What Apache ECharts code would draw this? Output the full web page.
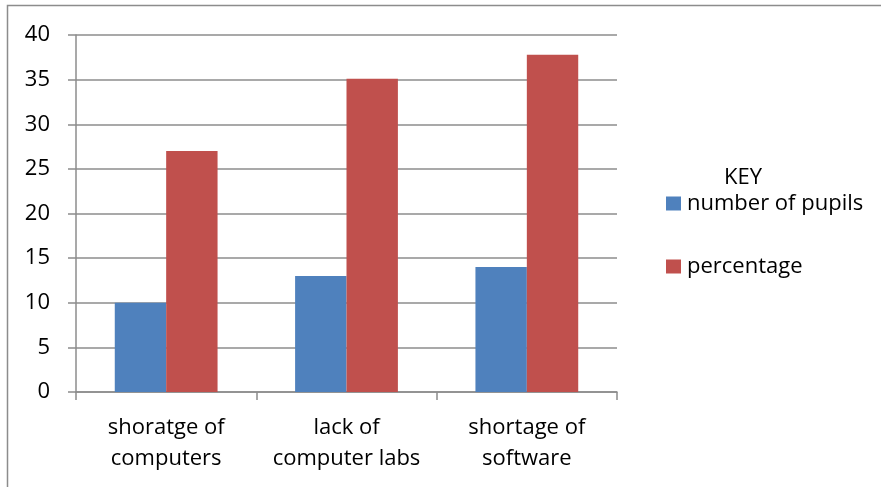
<!DOCTYPE html>
<html>
<head>
<meta charset="utf-8">
<script src="https://cdn.jsdelivr.net/npm/echarts@6/dist/echarts.min.js"></script>
<style>html,body{margin:0;padding:0;background:#fff}#c{width:881px;height:487px}</style>
</head>
<body>
<div id="c"></div>
<script>
var categories = ['shoratge of\ncomputers', 'lack of\ncomputer labs', 'shortage of\nsoftware'];
var pupils = [10, 13, 14];
var percentage = [27, 35.1, 37.8];
var seriesNames = ['number of pupils', 'percentage'];
var yTicks = {min: 0, max: 40, interval: 5};

var FONT = 'Open Sans';
var FS = 22;
var chart = echarts.init(document.getElementById('c'), null, {renderer: 'canvas'});
chart.setOption({
  animation: false,
  backgroundColor: '#fff',
  textStyle: {fontFamily: FONT},
  title: {
    text: 'KEY', left: 719, top: 162,
    textStyle: {fontFamily: FONT, fontSize: FS, fontWeight: 'normal', color: '#000'}
  },
  graphic: [{
    type: 'polyline',
    shape: {points: [[7.5, 487], [7.5, 5.5], [881, 5.5]]},
    style: {stroke: '#8c8c8c', lineWidth: 1.5, fill: null}
  }],
  legend: {
    orient: 'vertical', left: 661, top: 187,
    itemWidth: 15, itemHeight: 14, itemGap: 40,
    icon: 'rect',
    textStyle: {fontFamily: FONT, fontSize: FS, color: '#000', lineHeight: 23, padding: [0, 0, 0, 1]},
    data: seriesNames
  },
  grid: {left: 76, right: 264, top: 35, bottom: 95, containLabel: false},
  xAxis: {
    type: 'category', data: categories,
    axisLine: {lineStyle: {color: '#8c8c8c', width: 1.5}},
    axisTick: {show: true, length: 8, lineStyle: {color: '#8c8c8c', width: 1.5}},
    axisLabel: {fontFamily: FONT, fontSize: FS, color: '#000', lineHeight: 31, margin: 20,
                interval: 0, hideOverlap: false}
  },
  yAxis: {
    type: 'value', min: yTicks.min, max: yTicks.max, interval: yTicks.interval,
    axisLine: {show: true, lineStyle: {color: '#8c8c8c', width: 1.5}},
    axisTick: {show: true, length: 8, lineStyle: {color: '#8c8c8c', width: 1.5}},
    splitLine: {show: true, lineStyle: {color: '#8c8c8c', width: 1.5}},
    axisLabel: {fontFamily: FONT, fontSize: FS, color: '#000', margin: 26}
  },
  series: [
    {name: seriesNames[0], type: 'bar', data: pupils, barGap: '0%', barCategoryGap: '43%',
     itemStyle: {color: '#4f81bd'}},
    {name: seriesNames[1], type: 'bar', data: percentage, barGap: '0%', barCategoryGap: '43%',
     itemStyle: {color: '#c0504d'}}
  ]
});
</script>
</body>
</html>
